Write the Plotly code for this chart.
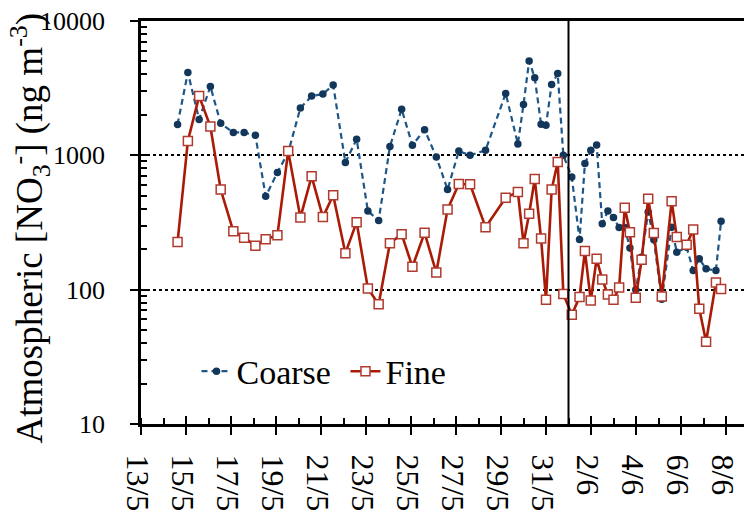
import plotly.graph_objects as go

times = [
    "2015-05-14 15:00", "2015-05-15 02:00", "2015-05-15 14:00", "2015-05-16 02:00",
    "2015-05-16 13:00", "2015-05-17 02:30", "2015-05-17 14:00", "2015-05-18 02:00",
    "2015-05-18 13:00", "2015-05-19 01:30", "2015-05-19 13:00", "2015-05-20 02:00",
    "2015-05-20 14:00", "2015-05-21 02:00", "2015-05-21 13:00", "2015-05-22 02:00",
    "2015-05-22 14:00", "2015-05-23 02:00", "2015-05-23 13:30", "2015-05-24 01:30",
    "2015-05-24 14:00", "2015-05-25 01:30", "2015-05-25 14:30", "2015-05-26 03:00",
    "2015-05-26 15:00", "2015-05-27 03:00", "2015-05-27 15:00", "2015-05-28 07:30",
    "2015-05-29 05:00", "2015-05-29 18:00", "2015-05-30 00:00", "2015-05-30 06:00",
    "2015-05-30 12:00", "2015-05-30 18:45", "2015-05-31 00:00", "2015-05-31 06:00",
    "2015-05-31 12:30", "2015-05-31 18:30", "2015-06-01 03:30", "2015-06-01 11:45",
    "2015-06-01 17:30", "2015-06-01 23:45", "2015-06-02 06:00", "2015-06-02 12:00",
    "2015-06-02 18:00", "2015-06-03 00:00", "2015-06-03 06:00", "2015-06-03 12:00",
    "2015-06-03 17:30", "2015-06-03 23:45", "2015-06-04 06:00", "2015-06-04 13:00",
    "2015-06-04 19:00", "2015-06-05 03:30", "2015-06-05 14:00", "2015-06-05 19:30",
    "2015-06-06 06:00", "2015-06-06 13:00", "2015-06-06 19:30", "2015-06-07 02:45",
    "2015-06-07 13:15", "2015-06-07 18:45",
]

coarse = [
    1700, 4140, 1850, 3260, 1730, 1480, 1480, 1410, 495, 745,
    1050, 2250, 2760, 2860, 3340, 884, 1320, 385, 327, 1165,
    2200, 1190, 1550, 973, 556, 1075, 1000, 1090, 2890, 1217,
    2390, 5040, 3780, 1706, 1676, 3370, 4070, 1000, 690, 236,
    869, 1090, 1195, 310, 385, 344, 290, 290, 204, 100,
    175, 378, 235, 85, 292, 190, 207, 139, 170, 143,
    139, 323,
]

fine = [
    226, 1280, 2760, 1640, 556, 272, 244, 212, 237, 254,
    1075, 344, 698, 347, 505, 187, 318, 102, 78, 222,
    259, 148, 265, 134, 396, 612, 609, 292, 484, 533,
    222, 368, 667, 240, 84, 556, 893, 93, 65, 88,
    194, 83, 170, 119, 92, 84, 104, 408, 268, 87,
    167, 476, 264, 89, 455, 247, 216, 281, 72, 41,
    113, 101,
]

y_ticks = [10, 100, 1000, 10000]
y_minor = [m * d for d in (10, 100, 1000) for m in range(2, 10)]
x_range = ["2015-05-13 00:00", "2015-06-08 19:12"]
split_date = "2015-06-01 00:00"
y_title = "Atmospheric [NO<sub>3</sub><sup>-</sup>] (ng m<sup>-3</sup>)"

FONT = "Liberation Serif"
DAY = 86400000

fig = go.Figure()
fig.add_trace(go.Scatter(
    x=times, y=coarse, name="Coarse", mode="lines+markers",
    line=dict(color="#1d5687", width=2.2, dash="6px,4px"),
    marker=dict(symbol="circle", size=7.5, color="#13375a"),
))
fig.add_trace(go.Scatter(
    x=times, y=fine, name="Fine", mode="lines+markers",
    line=dict(color="#a91b06", width=2.6),
    marker=dict(symbol="square", size=9, color="white",
                line=dict(color="#b03a2e", width=1.5)),
))
# invisible trace to anchor overlay axes (for crossing major ticks)
fig.add_trace(go.Scatter(
    x=[times[0]], y=[100], xaxis="x2", yaxis="y2", mode="markers",
    marker=dict(opacity=0), showlegend=False, hoverinfo="skip",
))

fig.add_shape(type="line", x0=split_date, x1=split_date, y0=0, y1=1,
              xref="x", yref="paper", line=dict(color="black", width=2))

fig.add_annotation(
    text=y_title, textangle=-90, xref="paper", yref="paper", x=0, y=0.5,
    xanchor="center", yanchor="middle", xshift=-112, yshift=-6, showarrow=False,
    font=dict(size=37, family=FONT, color="black"),
)

fig.update_layout(
    width=744, height=515,
    margin=dict(l=141, r=0, t=21, b=91, autoexpand=False),
    paper_bgcolor="white", plot_bgcolor="white",
    font=dict(family=FONT, color="black"),
    showlegend=True,
    legend=dict(orientation="h", x=0.092, y=0.13, xanchor="left", yanchor="middle",
                font=dict(size=34, family=FONT), bgcolor="rgba(0,0,0,0)",
                itemwidth=30, entrywidth=104, tracegroupgap=0),
    xaxis=dict(
        type="date", range=x_range, tick0="2015-05-13", dtick=2 * DAY,
        tickformat="%-d/%-m", tickangle=90, tickfont=dict(size=32, family=FONT),
        ticks="outside", ticklen=8, tickwidth=1.5, tickcolor="black",
        ticklabelstandoff=13, ticklabelshift=-4, ticklabeloverflow="allow",
        minor=dict(dtick=DAY, tick0="2015-05-13", ticks="inside", ticklen=6,
                   tickwidth=1.5, tickcolor="black"),
        showline=True, linecolor="black", linewidth=3, mirror=True,
        showgrid=False, zeroline=False, automargin=False,
    ),
    xaxis2=dict(
        type="date", range=x_range, overlaying="x", side="bottom", anchor="y2",
        tick0="2015-05-13", dtick=2 * DAY, ticks="inside", ticklen=8, tickwidth=1.5,
        tickcolor="black", showticklabels=False, showline=False, showgrid=False,
        zeroline=False, automargin=False,
    ),
    yaxis=dict(
        type="log", range=[1, 4], tickmode="array", tickvals=y_ticks,
        ticktext=[str(v) for v in y_ticks], tickfont=dict(size=26, family=FONT),
        ticks="outside", ticklen=8, tickwidth=1.5, tickcolor="black",
        ticklabelstandoff=20, ticklabeloverflow="allow",
        minor=dict(tickmode="array", tickvals=y_minor, ticks="inside", ticklen=6,
                   tickwidth=1.5, tickcolor="black"),
        showline=True, linecolor="black", linewidth=2.5,
        showgrid=True, gridcolor="black", gridwidth=2, griddash="dot",
        zeroline=False, automargin=False,
    ),
    yaxis2=dict(
        type="log", range=[1, 4], overlaying="y", side="left", anchor="x2",
        tickmode="array", tickvals=y_ticks, ticks="inside", ticklen=7, tickwidth=1.5,
        tickcolor="black", showticklabels=False, showline=False, showgrid=False,
        zeroline=False, automargin=False,
    ),
)

# remove the default 8px page margin so the figure fills the window exactly
fig.write_html("out.html", config={"displayModeBar": False},
               post_script="document.body.style.margin='0px';")
